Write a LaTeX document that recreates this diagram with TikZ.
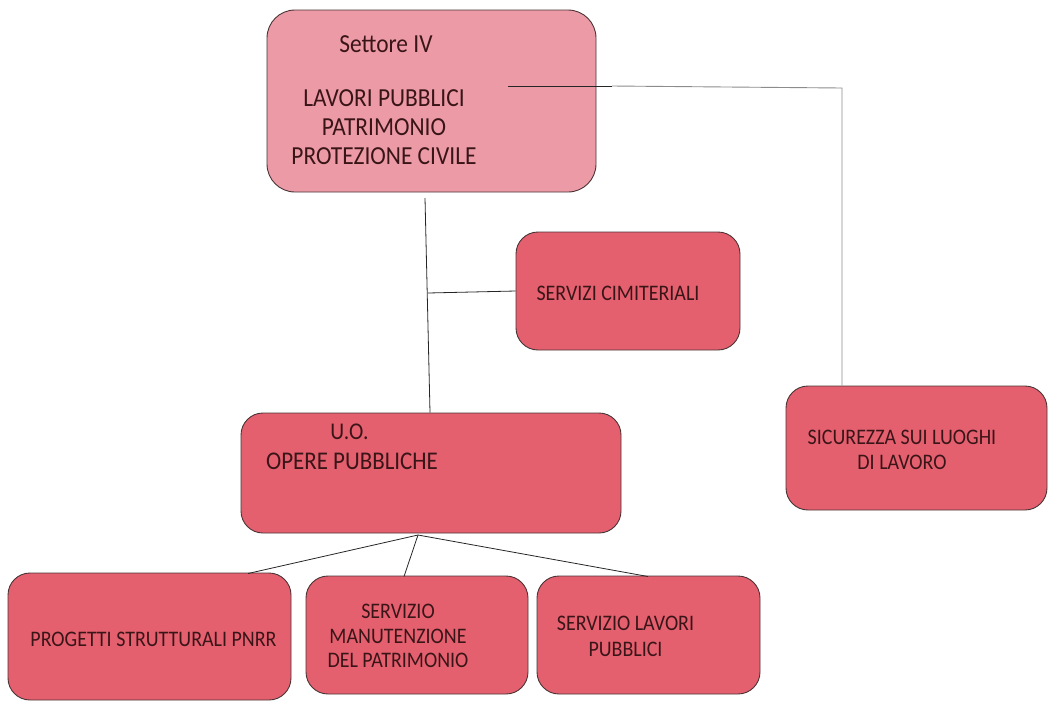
\documentclass[tikz,border=0pt]{standalone}
\usepackage{fontspec}
\setmainfont{Carlito}
\newfontfamily\tallfont[FakeStretch=0.9]{Carlito}
\definecolor{toppink}{HTML}{EC9BA6}
\definecolor{boxred}{HTML}{E4606F}
\definecolor{txt}{HTML}{3A1518}
\definecolor{edge}{HTML}{4A3436}
\begin{document}
\begin{tikzpicture}[x=1pt,y=-1pt,
  box/.style={draw=edge, line width=0.9pt, rounded corners=22pt, fill=boxred, inner sep=0pt},
  tbox/.style={box, fill=toppink, rounded corners=28pt},
  lbl/.style={text=txt, font=\tallfont\fontsize{22.2}{25.5}\selectfont, align=center, inner sep=0pt},
  big/.style={text=txt, font=\tallfont\fontsize{26}{29}\selectfont, align=center, inner sep=0pt},
  conn/.style={draw=black!85, line width=0.8pt},
  gconn/.style={draw=black!45, line width=0.9pt}]
\useasboundingbox (0,0) rectangle (1048,702);
% boxes
\node[tbox, minimum width=329pt, minimum height=182pt] (top) at (431.5,101) {};
\node[box, minimum width=224pt, minimum height=118pt] (cim) at (628,291) {};
\node[box, minimum width=380pt, minimum height=120pt] (uo) at (431,473) {};
\node[box, minimum width=261pt, minimum height=124pt] (sic) at (916.5,448) {};
\node[box, minimum width=283pt, minimum height=127pt] (pro) at (149.5,636.5) {};
\node[box, minimum width=222pt, minimum height=118pt] (man) at (417,635) {};
\node[box, minimum width=223pt, minimum height=118pt] (lav) at (648.5,635) {};
% texts
\node[big] (t1) at (386,44) {Settore IV};
\node[big] (t2) at (384,127) {LAVORI PUBBLICI\\PATRIMONIO\\PROTEZIONE CIVILE};
\node[lbl] (t3) at (618,293) {SERVIZI CIMITERIALI};
\node[big, font=\tallfont\fontsize{24}{29}\selectfont] (t4) at (349.5,432) {U.O.};
\node[big, font=\tallfont\fontsize{25.5}{29}\selectfont] (t5) at (352,461) {OPERE PUBBLICHE};
\node[lbl] (t6) at (902,450) {SICUREZZA SUI LUOGHI\\DI LAVORO};
\node[lbl] (t7) at (153.5,639) {PROGETTI STRUTTURALI PNRR};
\node[lbl, font=\tallfont\fontsize{22.2}{24.5}\selectfont] (t8) at (398,636) {SERVIZIO\\MANUTENZIONE\\DEL PATRIMONIO};
\node[lbl, font=\tallfont\fontsize{22.2}{26.5}\selectfont] (t9) at (625.5,636.5) {SERVIZIO LAVORI\\PUBBLICI};
% connectors
\coordinate (a0) at (508,86);
\coordinate (a1) at (612,86);
\coordinate (a2) at (842,88);
\coordinate (b0) at (425,198);
\coordinate (b1) at (428,293);
\coordinate (c0) at (418,535);
\draw[conn] (a0) -- (a1);
\draw[gconn] (a1) -- (a2) -- (sic.north -| a2);
\draw[conn] (b0) -- (uo.north -| 430,0);
\draw[conn] (b1) -- (cim.west);
\draw[conn] (c0) -- (248,573.5);
\draw[conn] (c0) -- (404,576.5);
\draw[conn] (c0) -- (648,576.5);
\end{tikzpicture}
\end{document}
